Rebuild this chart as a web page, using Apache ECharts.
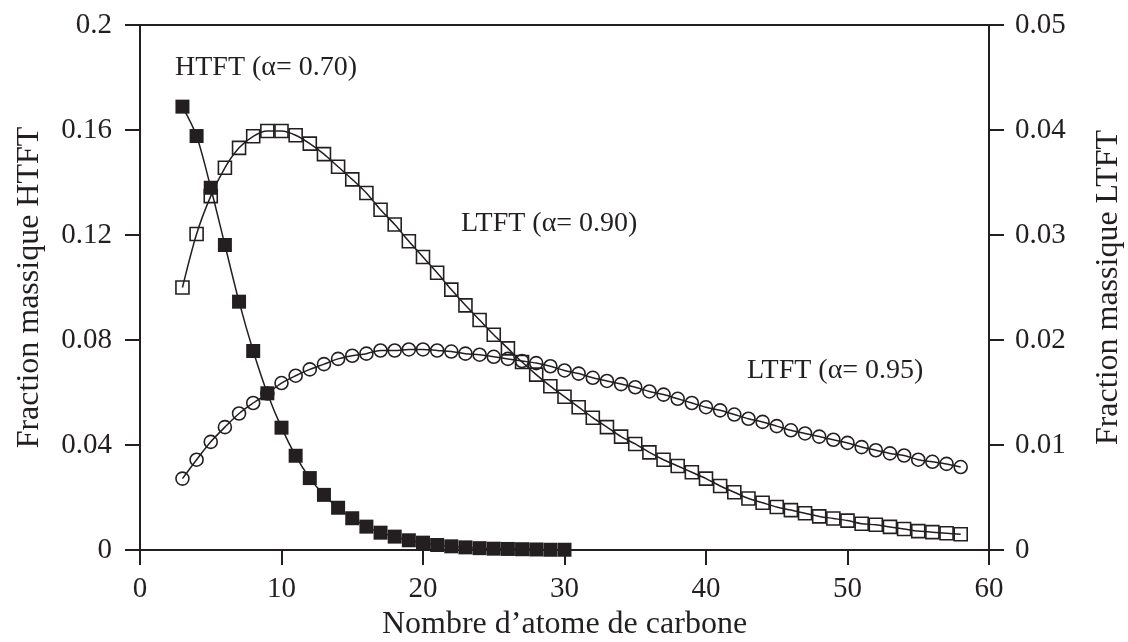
<!DOCTYPE html>
<html>
<head>
<meta charset="utf-8">
<script src="https://cdn.jsdelivr.net/npm/echarts@6/dist/echarts.min.js"></script>
<style>
html,body{margin:0;padding:0;background:#fff;}
#chart{width:1128px;height:642px;}
</style>
</head>
<body>
<div id="chart"></div>
<script>
// Carbon numbers
var carbonHTFT = [3,4,5,6,7,8,9,10,11,12,13,14,15,16,17,18,19,20,21,22,23,24,25,26,27,28,29,30];
var carbonLTFT = [3,4,5,6,7,8,9,10,11,12,13,14,15,16,17,18,19,20,21,22,23,24,25,26,27,28,29,30,
                  31,32,33,34,35,36,37,38,39,40,41,42,43,44,45,46,47,48,49,50,51,52,53,54,55,56,57,58];
// HTFT (alpha = 0.70), left axis
var htft70 = [0.1689,0.1577,0.1380,0.1162,0.0946,0.0758,0.0597,0.0466,0.0359,0.0274,0.0210,0.0161,0.0121,0.0089,
              0.0066,0.0051,0.0037,0.0028,0.0019,0.0014,0.0010,0.0007,0.0005,0.0004,0.0003,0.0002,0.0001,0.0001];
// LTFT (alpha = 0.90), right axis
var ltft90 = [0.0250,0.0301,0.0337,0.0364,0.0383,0.0394,0.0399,0.0399,0.0395,0.0387,0.0377,0.0365,0.0353,0.0340,
              0.0324,0.0310,0.0294,0.0279,0.0264,0.0248,0.0233,0.0219,0.0205,0.0192,0.0179,0.0167,0.0156,0.0146,
              0.0136,0.0126,0.0117,0.0108,0.0101,0.0093,0.0086,0.0080,0.0074,0.0068,0.0061,0.0055,0.0049,0.0045,
              0.0041,0.0038,0.0035,0.0032,0.0030,0.0028,0.0025,0.0024,0.0022,0.0020,0.0018,0.0017,0.0016,0.0015];
// LTFT (alpha = 0.95), right axis
var ltft95 = [0.0068,0.0086,0.0103,0.0117,0.0130,0.0140,0.0149,0.0159,0.0166,0.0172,0.0177,0.0182,0.0185,0.0187,
              0.0190,0.0190,0.0191,0.0191,0.0190,0.0189,0.0187,0.0186,0.0184,0.0182,0.0180,0.0178,0.0175,0.0171,
              0.0168,0.0164,0.0161,0.0158,0.0155,0.0151,0.0148,0.0144,0.0140,0.0136,0.0133,0.0129,0.0125,0.0122,
              0.0118,0.0114,0.0111,0.0108,0.0105,0.0102,0.0098,0.0095,0.0092,0.0090,0.0086,0.0084,0.0082,0.0079];
var xTicks = [0,10,20,30,40,50,60];
var leftTicks = [0,0.04,0.08,0.12,0.16,0.2];
var rightTicks = [0,0.01,0.02,0.03,0.04,0.05];
var seriesLabels = ['HTFT (\u03b1= 0.70)','LTFT (\u03b1= 0.90)','LTFT (\u03b1= 0.95)'];

function pairs(xs, ys){ return xs.map(function(x,i){ return [x, ys[i]]; }); }

var ink = '#231f20';
var FONT = '"Liberation Serif","Times New Roman",serif';
function fmt(v){ return String(+(+v).toFixed(3)); }

var chart = echarts.init(document.getElementById('chart'));
var axisCommon = {
  axisLine:{show:true, lineStyle:{color:ink, width:2}},
  axisTick:{show:true, inside:false, length:15, lineStyle:{color:ink, width:2}},
  splitLine:{show:false},
  axisLabel:{color:ink, fontFamily:FONT, fontSize:29, formatter:fmt},
  nameTextStyle:{color:ink, fontFamily:FONT, fontSize:32}
};
var option = {
  animation:false,
  backgroundColor:'#fff',
  grid:{left:140, right:139, top:25, bottom:92, containLabel:false, outerBoundsMode:'none',
        show:true, borderColor:ink, borderWidth:2, backgroundColor:'transparent'},
  xAxis: Object.assign({}, axisCommon, {
    type:'value', min:xTicks[0], max:xTicks[xTicks.length-1], interval:10,
    name:'Nombre d\u2019atome de carbone', nameLocation:'middle', nameGap:52,
    axisLabel:Object.assign({}, axisCommon.axisLabel, {margin:25})
  }),
  yAxis:[
    Object.assign({}, axisCommon, {
      type:'value', position:'left', min:leftTicks[0], max:leftTicks[leftTicks.length-1], interval:0.04,
      name:'Fraction massique HTFT', nameLocation:'middle', nameGap:94,
      axisLabel:Object.assign({}, axisCommon.axisLabel, {margin:28})
    }),
    Object.assign({}, axisCommon, {
      type:'value', position:'right', min:rightTicks[0], max:rightTicks[rightTicks.length-1], interval:0.01,
      name:'Fraction massique LTFT', nameLocation:'middle', nameGap:104,
      axisLabel:Object.assign({}, axisCommon.axisLabel, {margin:26})
    })
  ],
  series:[
    {
      name:seriesLabels[1], type:'line', yAxisIndex:1, data:pairs(carbonLTFT, ltft90),
      smooth:0.3, symbol:'rect', symbolSize:13, z:2,
      lineStyle:{color:ink, width:1.5},
      itemStyle:{color:'rgba(255,255,255,0)', borderColor:ink, borderWidth:1.6},
      emphasis:{disabled:true}
    },
    {
      name:seriesLabels[2], type:'line', yAxisIndex:1, data:pairs(carbonLTFT, ltft95),
      smooth:0.3, symbol:'circle', symbolSize:13, z:2,
      lineStyle:{color:ink, width:1.5},
      itemStyle:{color:'rgba(255,255,255,0)', borderColor:ink, borderWidth:1.6},
      emphasis:{disabled:true}
    },
    {
      name:seriesLabels[0], type:'line', yAxisIndex:0, data:pairs(carbonHTFT, htft70),
      smooth:0.3, symbol:'rect', symbolSize:14, z:3,
      lineStyle:{color:ink, width:1.5},
      itemStyle:{color:ink, borderColor:ink, borderWidth:0},
      emphasis:{disabled:true}
    }
  ],
  graphic:[
    {type:'text', left:175, top:54, style:{text:seriesLabels[0], fill:ink, font:'28px '+FONT}},
    {type:'text', left:461, top:210, style:{text:seriesLabels[1], fill:ink, font:'28px '+FONT}},
    {type:'text', left:747, top:357, style:{text:seriesLabels[2], fill:ink, font:'28px '+FONT}}
  ]
};
chart.setOption(option);
</script>
</body>
</html>
